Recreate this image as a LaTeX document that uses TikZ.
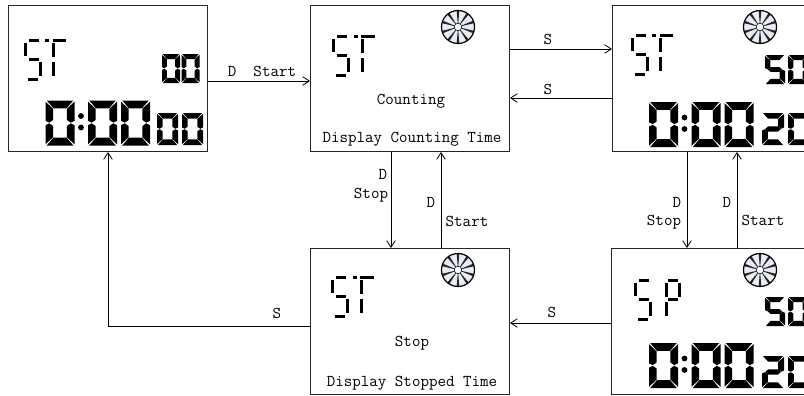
\documentclass[tikz,border=0pt]{standalone}
\usetikzlibrary{arrows.meta}
\def\sga{(1.2,0)--(26.8,0)--(20.4,7.6)--(7.6,7.6)--cycle}
\def\sgf{(0,1.2)--(7.4,8.2)--(7.4,19)--(3.6,21.7)--(0,19.8)--cycle}
\def\sgb{(28,1.2)--(20.6,8.2)--(20.6,19)--(24.4,21.7)--(28,19.8)--cycle}
\def\sge{(0,24.2)--(3.6,22.3)--(7.4,25)--(7.4,35.8)--(0,42.8)--cycle}
\def\sgc{(28,24.2)--(24.4,22.3)--(20.6,25)--(20.6,35.8)--(28,42.8)--cycle}
\def\sgd{(1.2,44)--(26.8,44)--(20.4,36.4)--(7.6,36.4)--cycle}
\def\sgg{(4,22)--(7.8,18.4)--(20.2,18.4)--(24,22)--(20.2,25.6)--(7.8,25.6)--cycle}
\newcommand{\lcdDigit}[5]{\begin{scope}[shift={(#1,#2)},xscale=#3/28,yscale=#4/44]
  \foreach \s in #5{\expandafter\fill\csname sg\s\endcsname;}\end{scope}}
\def\zeroSegs{a,b,c,d,e,f}
\def\twoSegs{a,b,g,e,d}
\def\fiveSegs{a,f,g,c,d}
\newcommand{\lcdRect}[4]{\fill (#1,#2) rectangle (#3,#4);}
\newcommand{\glyphS}[2]{\begin{scope}[shift={(#1,#2)}]
  \lcdRect{5}{0}{15}{3.4}\lcdRect{0}{4}{3.4}{17}\lcdRect{5}{18.5}{15}{22}\lcdRect{15}{23}{18.4}{37}\lcdRect{4}{38.5}{14}{42}\end{scope}}
\newcommand{\glyphT}[2]{\begin{scope}[shift={(#1,#2)}]
  \lcdRect{21.5}{0}{25.5}{3.4}\lcdRect{29}{0}{42.5}{3.4}\lcdRect{28.5}{4}{31.9}{18}\lcdRect{28.5}{23}{31.9}{37}\end{scope}}
\newcommand{\glyphP}[2]{\begin{scope}[shift={(#1,#2)}]
  \lcdRect{34}{0}{44}{3.4}\lcdRect{31.5}{4}{34.9}{18}\lcdRect{44}{4}{47.4}{18}\lcdRect{34}{19}{44}{22}\lcdRect{31.5}{23}{34.9}{37}\end{scope}}
\newcommand{\fan}[2]{\begin{scope}[shift={(#1,#2)}]
  \fill[fanfill] (0,0) circle (16.5);
  \foreach \a in {90,54,18,-18,-54,-90,-126,-162,162,126}{\fill[black!85] (0,0) -- (\a-4.5:16.5) -- (\a+4.5:16.5) -- cycle;}
  \draw[line width=.9pt] (0,0) circle (16.5);
  \fill[white] (0,0) circle (3.8);
  \draw[line width=.4pt] (0,0) circle (3.8);\end{scope}}
\newcommand{\bigTime}[2]{\begin{scope}[shift={(#1,#2)}]
  \lcdDigit{0}{0}{29}{45}{\zeroSegs}\lcdDigit{42.5}{0}{29}{45}{\zeroSegs}\lcdDigit{75.5}{0}{29}{45}{\zeroSegs}
  \fill (35.5,15.5) circle (2.9);\fill (35.5,27) circle (2.9);\end{scope}}
\definecolor{fanfill}{HTML}{E8ECF5}
\tikzset{
  box/.style={draw=black!85,line width=.75pt,minimum width=149.25pt,minimum height=109.5pt,inner sep=0pt,anchor=north west},
  arr/.style={-{Straight Barb[length=5pt,width=6.5pt,line width=.6pt]},line width=.65pt},
  lbl/.style={font=\ttfamily\fontsize{12.4}{14}\selectfont,inner sep=0pt,anchor=base},
}
\begin{document}
\begin{tikzpicture}[x=.75pt,y=-.75pt]
\clip (0,0) rectangle (804,396);
\fill[white] (0,0) rectangle (804,396);
\node[box] (A) at (8,5) {};
\node[box] (B) at (310,5) {};
\node[box] (C) at (612,5) {};
\node[box] (D) at (310,248) {};
\node[box] (E) at (611,248) {};
\coordinate (h81) at (0,81);
\coordinate (h49) at (0,49);
\coordinate (h98) at (0,98);
\coordinate (h323) at (0,323);
\coordinate (h326) at (0,326);
\coordinate (v391) at (391,0);
\coordinate (v441) at (441,0);
\coordinate (v687) at (687,0);
\coordinate (v737) at (737,0);
\coordinate (v108) at (108,0);
\draw[arr] (A.east |- h81) -- (B.west |- h81);
\draw[arr] (B.east |- h49) -- (C.west |- h49);
\draw[arr] (C.west |- h98) -- (B.east |- h98);
\draw[arr] (B.south -| v391) -- (D.north -| v391);
\draw[arr] (D.north -| v441) -- (B.south -| v441);
\draw[arr] (C.south -| v687) -- (E.north -| v687);
\draw[arr] (E.north -| v737) -- (C.south -| v737);
\draw[arr] (E.west |- h323) -- (D.east |- h323);
\draw[arr] (D.west |- h326) -| (A.south -| v108);
% box A
\glyphS{23.5}{39}\glyphT{23.5}{39}
\lcdDigit{162}{54}{18}{29}{\zeroSegs}\lcdDigit{181.5}{54}{18}{29}{\zeroSegs}
\bigTime{45.5}{100.5}
\lcdDigit{157}{113}{21}{32}{\zeroSegs}\lcdDigit{182}{113}{21}{32}{\zeroSegs}
% box B
\glyphS{332}{35}\glyphT{332}{35}
\fan{458}{27}
\node[lbl] (tB1) at (411,104) {Counting};
\node[lbl] (tB2) at (412,142) {Display Counting Time};
% box C
\glyphS{630.5}{34}\glyphT{630.5}{34}
\fan{760}{27}
\lcdDigit{765}{55}{20}{29}{\fiveSegs}\lcdDigit{788}{55}{20}{29}{\zeroSegs}
\bigTime{649}{102}
\lcdDigit{762}{113}{22}{32}{\twoSegs}\lcdDigit{788}{113}{22}{32}{\zeroSegs}
% box D
\glyphS{331}{276}\glyphT{331}{276}
\fan{458}{270}
\node[lbl] (tD1) at (412,346) {Stop};
\node[lbl] (tD2) at (412,386) {Display Stopped Time};
% box E
\glyphS{633.5}{279}\glyphP{633.5}{279}
\fan{760}{270}
\lcdDigit{765}{297}{20}{29}{\fiveSegs}\lcdDigit{788}{297}{20}{29}{\zeroSegs}
\bigTime{649}{343}
\lcdDigit{762}{356}{22}{32}{\twoSegs}\lcdDigit{788}{356}{22}{32}{\zeroSegs}
% labels
\node[lbl] (l1) at (262,76) {D\ \ Start};
\node[lbl] (l2) at (548,45) {S};
\node[lbl] (l3) at (548,94) {S};
\node[lbl] (l4) at (383,179) {D};
\node[lbl] (l5) at (371,198) {Stop};
\node[lbl] (l6) at (431,207) {D};
\node[lbl] (l7) at (467,226) {Start};
\node[lbl] (l8) at (677,207) {D};
\node[lbl] (l9) at (664,225) {Stop};
\node[lbl] (l10) at (727,207) {D};
\node[lbl] (l11) at (763,225) {Start};
\node[lbl] (l12) at (552,317) {S};
\node[lbl] (l13) at (277,318) {S};
\end{tikzpicture}
\end{document}
